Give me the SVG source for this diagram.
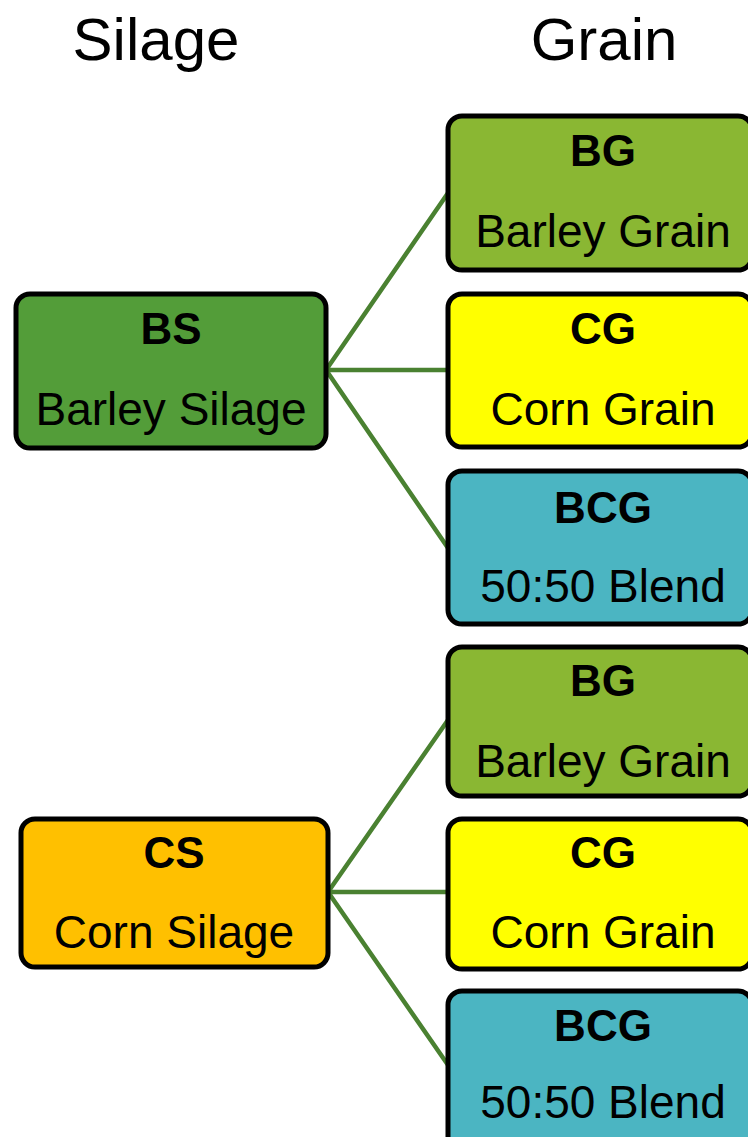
<svg xmlns="http://www.w3.org/2000/svg" width="748" height="1137" viewBox="0 0 748 1137">
<style>
.box{stroke:#000;stroke-width:5}
.t{font-family:"Liberation Sans",Arial,sans-serif;text-anchor:middle;fill:#000}
.h{font-size:60px}
.b{font-size:44px;font-weight:bold}
.r{font-size:46px}
.c{stroke:#4A8131;stroke-width:4.5;fill:none}
</style>
<rect width="748" height="1137" fill="#fff"/>
<g id="titles">
<text class="t h" x="156" y="60">Silage</text>
<text class="t h" x="604" y="60">Grain</text>
</g>
<g id="connectors">
<path class="c" d="M326 370 L448 193 M326 370 L448 370 M326 370 L448 548"/>
<path class="c" d="M328 892 L448 720 M328 892 L448 892 M328 892 L448 1065"/>
</g>
<g id="BS">
<rect class="box" x="16" y="294" width="310" height="154" rx="14" fill="#539D39"/>
<text class="t b" x="171" y="344">BS</text>
<text class="t r" x="171" y="425">Barley Silage</text>
</g>
<g id="BG1">
<rect class="box" x="448" y="116" width="304" height="154" rx="14" fill="#8AB733"/>
<text class="t b" x="603" y="166">BG</text>
<text class="t r" x="603" y="247">Barley Grain</text>
</g>
<g id="CG1">
<rect class="box" x="448" y="294" width="304" height="153" rx="14" fill="#FFFF00"/>
<text class="t b" x="603" y="344">CG</text>
<text class="t r" x="603" y="425">Corn Grain</text>
</g>
<g id="BCG1">
<rect class="box" x="448" y="471" width="304" height="153" rx="14" fill="#4BB5C2"/>
<text class="t b" x="603" y="523">BCG</text>
<text class="t r" x="603" y="602">50:50 Blend</text>
</g>
<g id="CS">
<rect class="box" x="21" y="819" width="307" height="148" rx="14" fill="#FFC000"/>
<text class="t b" x="174" y="868">CS</text>
<text class="t r" x="174" y="948">Corn Silage</text>
</g>
<g id="BG2">
<rect class="box" x="448" y="647" width="304" height="149" rx="14" fill="#8AB733"/>
<text class="t b" x="603" y="696">BG</text>
<text class="t r" x="603" y="777">Barley Grain</text>
</g>
<g id="CG2">
<rect class="box" x="448" y="819" width="304" height="150" rx="14" fill="#FFFF00"/>
<text class="t b" x="603" y="868">CG</text>
<text class="t r" x="603" y="948">Corn Grain</text>
</g>
<g id="BCG2">
<rect class="box" x="448" y="991" width="304" height="160" rx="14" fill="#4BB5C2"/>
<text class="t b" x="603" y="1041">BCG</text>
<text class="t r" x="603" y="1118">50:50 Blend</text>
</g>
</svg>
